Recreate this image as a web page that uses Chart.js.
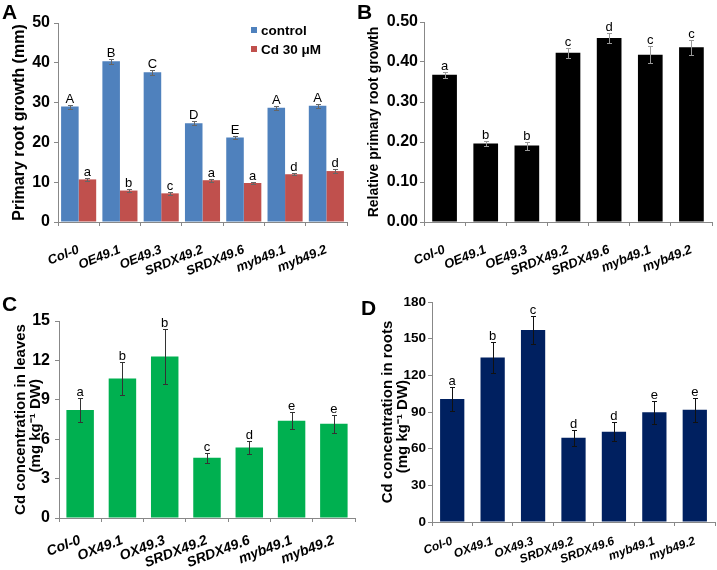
<!DOCTYPE html>
<html>
<head>
<meta charset="utf-8">
<script src="https://cdn.jsdelivr.net/npm/chart.js@4.4.0/dist/chart.umd.min.js"></script>
<style>
  body { margin: 0; background: #fff; font-family: "Liberation Sans", Arial, sans-serif; }
  #wrap { position: relative; width: 717px; height: 570px; overflow: hidden; }
  .panel { position: absolute; }
  .tag { position: absolute; font-weight: bold; font-size: 21px; line-height: 21px; }
  .leg { position: absolute; left: 251px; font-weight: bold; font-size: 13.5px; line-height: 19px; white-space: nowrap; }
  .leg span { display: inline-block; width: 6px; height: 6px; margin-right: 4px; vertical-align: 2px; }
</style>
</head>
<body>
<div id="wrap">
  <canvas id="chartA" class="panel" width="355" height="285" style="left:0;top:0"></canvas>
  <canvas id="chartB" class="panel" width="362" height="285" style="left:355px;top:0"></canvas>
  <canvas id="chartC" class="panel" width="360" height="285" style="left:0;top:285px"></canvas>
  <canvas id="chartD" class="panel" width="362" height="285" style="left:355px;top:285px"></canvas>
  <div class="tag" style="left:2px;top:1px">A</div>
  <div class="tag" style="left:357px;top:1px">B</div>
  <div class="tag" style="left:2px;top:293px">C</div>
  <div class="tag" style="left:361px;top:297px">D</div>
  <div class="leg" style="top:21px"><span style="background:#4F81BD"></span>control</div>
  <div class="leg" style="top:40px"><span style="background:#C0504D"></span>Cd 30 μM</div>
</div>
<script>
// lines
const linesAB = ['Col-0', 'OE49.1', 'OE49.3', 'SRDX49.2', 'SRDX49.6', 'myb49.1', 'myb49.2'];
const linesCD = ['Col-0', 'OX49.1', 'OX49.3', 'SRDX49.2', 'SRDX49.6', 'myb49.1', 'myb49.2'];

// A - primary root growth (mm)
const ctrlGrowth = [29.0, 40.4, 37.6, 24.8, 21.2, 28.7, 29.2];
const ctrlErr = [0.5, 0.6, 0.6, 0.5, 0.4, 0.5, 0.5];
const ctrlLetters = ['A', 'B', 'C', 'D', 'E', 'A', 'A'];
const cdGrowth = [10.7, 7.9, 7.2, 10.5, 9.8, 12.0, 12.8];
const cdErr = [0.3, 0.3, 0.4, 0.4, 0.3, 0.3, 0.5];
const cdLetters = ['a', 'b', 'c', 'a', 'a', 'd', 'd'];
const ticksA = [0, 10, 20, 30, 40, 50];

// B - relative primary root growth
const relGrowth = [0.368, 0.196, 0.191, 0.423, 0.460, 0.418, 0.437];
const relErr = [0.008, 0.006, 0.010, 0.012, 0.013, 0.021, 0.019];
const relLetters = ['a', 'b', 'b', 'c', 'd', 'c', 'c'];
const ticksB = [0, 0.1, 0.2, 0.3, 0.4, 0.5];

// C - Cd in leaves
const leafCd = [8.23, 10.62, 12.29, 4.58, 5.37, 7.40, 7.17];
const leafErr = [0.9, 1.24, 2.1, 0.36, 0.46, 0.66, 0.68];
const leafLetters = ['a', 'b', 'b', 'c', 'd', 'e', 'e'];
const ticksC = [0, 3, 6, 9, 12, 15];

// D - Cd in roots
const rootCd = [100.7, 134.6, 157.0, 69.0, 73.9, 89.7, 91.8];
const rootErr = [10, 13, 11.2, 6.6, 7.7, 9.2, 9.6];
const rootLetters = ['a', 'b', 'c', 'd', 'd', 'e', 'e'];
const ticksD = [0, 30, 60, 90, 120, 150, 180];

const FONT = '"Liberation Sans", Arial, sans-serif';
Chart.defaults.font.family = FONT;
Chart.defaults.color = '#000';

// error bars + significance letters
const errorBars = {
  id: 'errorBars',
  afterDatasetsDraw(chart) {
    const ctx = chart.ctx;
    const y = chart.scales.y;
    chart.data.datasets.forEach((ds, i) => {
      chart.getDatasetMeta(i).data.forEach((bar, j) => {
        const v = ds.data[j], e = ds.errors[j];
        const top = Math.round(y.getPixelForValue(v + e)) + 0.5;
        const bot = Math.round(y.getPixelForValue(v - e)) + 0.5;
        const x = Math.round(bar.x) + 0.5;
        ctx.save();
        ctx.strokeStyle = ds.errColor;
        ctx.lineWidth = 1;
        ctx.beginPath();
        ctx.moveTo(x, top); ctx.lineTo(x, bot);
        ctx.moveTo(x - 2.5, top); ctx.lineTo(x + 2.5, top);
        ctx.moveTo(x - 2.5, bot); ctx.lineTo(x + 2.5, bot);
        ctx.stroke();
        ctx.fillStyle = '#000';
        ctx.font = '13px ' + FONT;
        ctx.textAlign = 'center';
        ctx.textBaseline = 'alphabetic';
        ctx.fillText(ds.letters[j], bar.x, top - 3);
        ctx.restore();
      });
    });
  }
};

function makePanel(id, o) {
  new Chart(document.getElementById(id), {
    type: 'bar',
    data: { labels: o.labels, datasets: o.datasets },
    options: {
      responsive: false,
      animation: false,
      layout: { padding: { left: 0, top: o.top, right: o.right, bottom: 0 } },
      plugins: { legend: { display: false }, tooltip: { enabled: false } },
      datasets: { bar: { categoryPercentage: o.cat, barPercentage: 1 } },
      scales: {
        x: {
          grid: { display: true, drawOnChartArea: false, tickLength: 4, color: '#888', offset: true },
          border: { color: '#888' },
          ticks: {
            font: { size: o.xSize, weight: 'bold', style: 'italic' },
            minRotation: o.rot, maxRotation: o.rot, autoSkip: false, padding: o.xPad
          },
          afterFit: s => { s.height = o.xh; }
        },
        y: {
          min: o.ticks[0],
          max: o.ticks[o.ticks.length - 1],
          afterBuildTicks: s => { s.ticks = o.ticks.map(v => ({ value: v })); },
          grid: { display: true, drawOnChartArea: false, tickLength: 4, color: '#888' },
          border: { color: '#888' },
          ticks: { font: { size: o.tickSize, weight: 'bold' }, padding: o.yPad, callback: o.fmt },
          title: {
            display: true, text: o.title,
            font: { size: o.titleSize, weight: 'bold', lineHeight: 1 },
            padding: { top: o.titlePad, bottom: 0 }
          },
          afterFit: s => { s.width = o.yw; }
        }
      }
    },
    plugins: [errorBars]
  });
}

makePanel('chartA', {
  labels: linesAB,
  datasets: [
    { label: 'control', data: ctrlGrowth, errors: ctrlErr, letters: ctrlLetters, backgroundColor: '#4F81BD', errColor: '#666' },
    { label: 'Cd 30 μM', data: cdGrowth, errors: cdErr, letters: cdLetters, backgroundColor: '#C0504D', errColor: '#666' }
  ],
  ticks: ticksA, fmt: v => String(v), cat: 0.85,
  top: 23, right: 8, xh: 63, yw: 58, tickSize: 16, yPad: 4, xSize: 13, xPad: 16, rot: 22,
  title: 'Primary root growth (mm)', titleSize: 16, titlePad: 12
});

makePanel('chartB', {
  labels: linesAB,
  datasets: [
    { data: relGrowth, errors: relErr, letters: relLetters, backgroundColor: '#000', errColor: '#999' }
  ],
  ticks: ticksB, fmt: v => v.toFixed(2), cat: 0.6,
  top: 22, right: 5, xh: 63, yw: 69, tickSize: 16, yPad: 2, xSize: 13, xPad: 16, rot: 22,
  title: 'Relative primary root growth', titleSize: 14, titlePad: 12.5
});

// trailing spaces push the unit line a little lower, as in the figure
makePanel('chartC', {
  labels: linesCD,
  datasets: [
    { data: leafCd, errors: leafErr, letters: leafLetters, backgroundColor: '#00B050', errColor: '#333' }
  ],
  ticks: ticksC, fmt: v => String(v), cat: 0.65,
  top: 36, right: 5, xh: 52, yw: 59, tickSize: 16, yPad: 5, xSize: 14, xPad: 10, rot: 21,
  title: ['Cd concentration in leaves', '(mg kg⁻¹ DW)   '], titleSize: 15, titlePad: 13
});

makePanel('chartD', {
  labels: linesCD,
  datasets: [
    { data: rootCd, errors: rootErr, letters: rootLetters, backgroundColor: '#002060', errColor: '#111' }
  ],
  ticks: ticksD, fmt: v => String(v), cat: 0.6,
  top: 17, right: 2, xh: 48, yw: 77, tickSize: 13.5, yPad: 2, xSize: 12, xPad: 8, rot: 20,
  title: ['Cd concentration in roots', '(mg kg⁻¹ DW)       '], titleSize: 15, titlePad: 25
});
</script>
</body>
</html>
